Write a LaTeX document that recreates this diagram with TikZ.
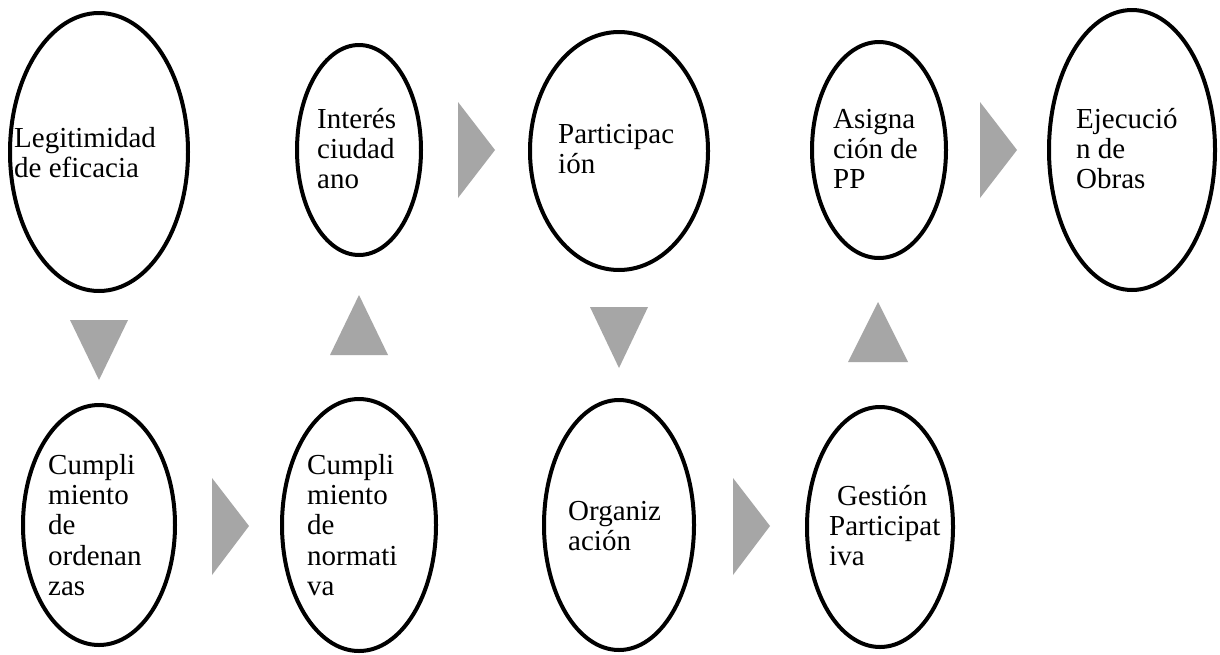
\documentclass[tikz,border=0pt]{standalone}
\usepackage{fontspec}
\setmainfont{Liberation Serif}
\usetikzlibrary{shapes.geometric}
\definecolor{trigray}{HTML}{A6A6A6}
\begin{document}
\begin{tikzpicture}[x=1pt,y=-1pt,
  ell/.style={ellipse, draw=black, line width=4pt, inner sep=0pt, fill=white},
  lbl/.style={anchor=north west, inner sep=0pt, align=left, font=\fontsize{29}{30.3}\selectfont},
  tri/.style={fill=trigray, draw=none}]
\useasboundingbox[fill=white] (0,0) rectangle (1220,654);
% ellipses
\node[ell, minimum width=178, minimum height=278] (e1) at (99,152) {};
\node[ell, minimum width=124, minimum height=210] (e2) at (359,150) {};
\node[ell, minimum width=178, minimum height=238] (e3) at (619,151) {};
\node[ell, minimum width=134, minimum height=216] (e4) at (879,150) {};
\node[ell, minimum width=166, minimum height=280] (e5) at (1132,150) {};
\node[ell, minimum width=152, minimum height=240] (e6) at (99,525) {};
\node[ell, minimum width=154, minimum height=252] (e7) at (359,525) {};
\node[ell, minimum width=150, minimum height=250] (e8) at (619,525) {};
\node[ell, minimum width=146, minimum height=240] (e9) at (880,527) {};
% labels
\node[lbl] (t1) at (14,125.8) {\strut Legitimidad\\de eficacia};
\node[lbl] (t2) at (317,106.8) {\strut Interés\\ciudad\\ano};
\node[lbl] (t3) at (558,121.8) {\strut Participac\\ión};
\node[lbl] (t4) at (833,106.8) {\strut Asigna\\ción de\\PP};
\node[lbl] (t5) at (1076,106.8) {\strut Ejecució\\n de\\Obras};
\node[lbl] (t6) at (48,452.8) {\strut Cumpli\\miento\\de\\ordenan\\zas};
\node[lbl] (t7) at (307,452.8) {\strut Cumpli\\miento\\de\\normati\\va};
\node[lbl] (t8) at (568,498.8) {\strut Organiz\\ación};
\node[lbl] (t9) at (829,483.8) {\strut\hspace*{8pt}Gestión\\Participat\\iva};
% arrows (grey triangles)
\fill[tri] (458,102) -- (495,150) -- (458,198) -- cycle;
\fill[tri] (980,102) -- (1017,150) -- (980,198) -- cycle;
\fill[tri] (212,478) -- (249,526) -- (212,575) -- cycle;
\fill[tri] (733,478) -- (770,526) -- (733,575) -- cycle;
\fill[tri] (70,320) -- (128,320) -- (99,380) -- cycle;
\fill[tri] (590,307) -- (648,307) -- (619,368) -- cycle;
\fill[tri] (330,355) -- (388,355) -- (359,295) -- cycle;
\fill[tri] (848,362) -- (908,362) -- (878,302) -- cycle;
\end{tikzpicture}
\end{document}
